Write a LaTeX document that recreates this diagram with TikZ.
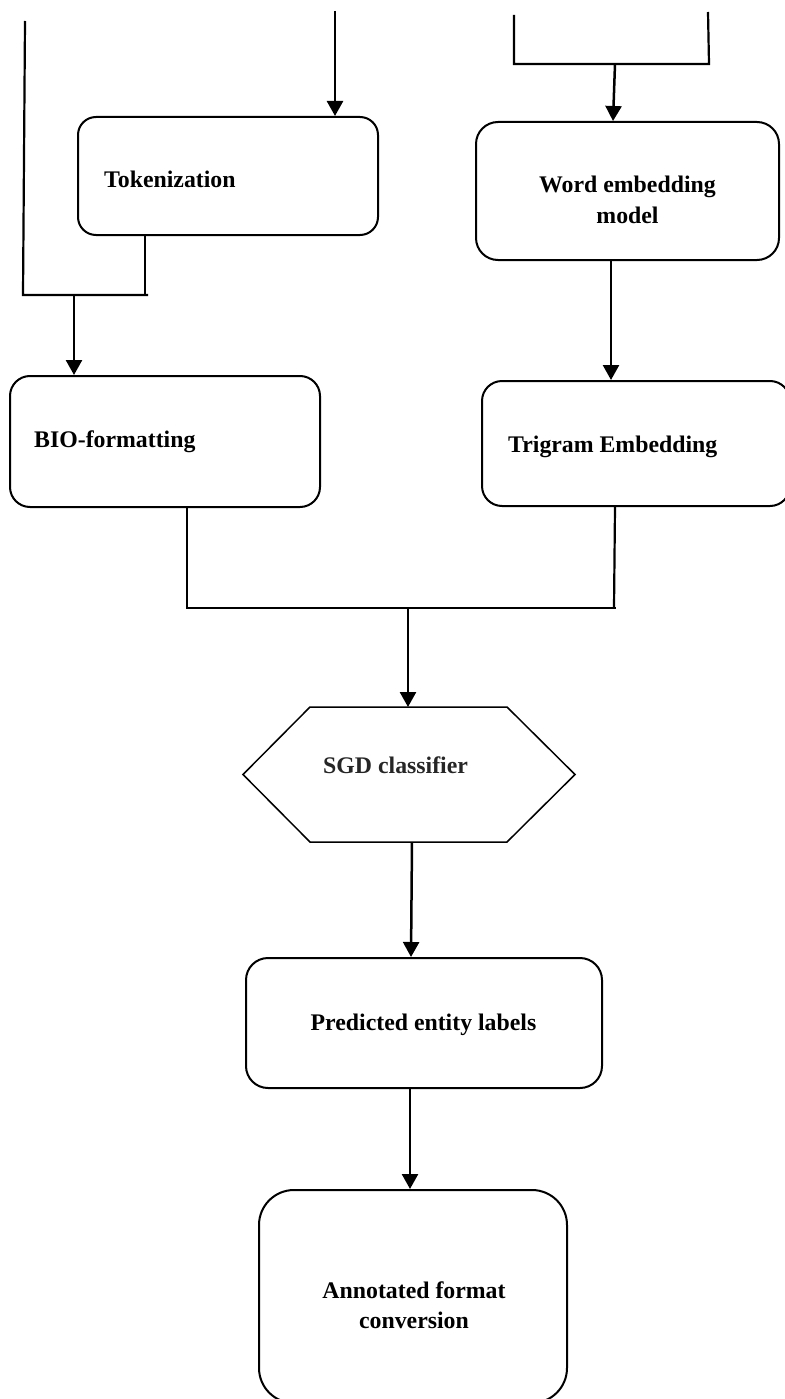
\documentclass[tikz,border=0pt]{standalone}
\usepackage{fontspec}
\setmainfont{Liberation Serif}
\usetikzlibrary{arrows.meta}
\begin{document}
\begin{tikzpicture}[x=1pt,y=-1pt,
  box/.style={draw, line width=2pt, rounded corners=#1, inner sep=0pt},
  box/.default=20pt,
  lbl/.style={font=\fontsize{23.8}{31}\selectfont\bfseries, inner sep=0pt, align=center},
  ln/.style={line width=2.2pt},
  arr/.style={line width=2.5pt, -{Triangle[width=16pt,length=15pt]}}]
\useasboundingbox (0,0) rectangle (784,1399);

% boxes
\node[box=18pt, minimum width=300pt, minimum height=118pt] (tok) at (228,176) {};
\node[box=20pt, minimum width=310pt, minimum height=131pt] (bio) at (165,441.5) {};
\node[box=22pt, minimum width=303pt, minimum height=138pt] (word) at (627.5,191) {};
\node[box=20pt, minimum width=308pt, minimum height=125pt] (tri) at (636,443.5) {};
\node[inner sep=0pt, outer sep=0pt, minimum width=332pt, minimum height=135pt] (sgd) at (409,774.5) {};
\draw[line width=1.5pt] (sgd.west) -- ([xshift=67pt]sgd.north west) -- ([xshift=-68pt]sgd.north east)
  -- (sgd.east) -- ([xshift=-68pt]sgd.south east) -- ([xshift=67pt]sgd.south west) -- cycle;
\node[box=22pt, minimum width=356pt, minimum height=130pt] (pred) at (424,1023) {};
\node[box=35pt, minimum width=308pt, minimum height=213pt] (ann) at (413,1296.5) {};

% labels
\node[lbl, anchor=west] (tokt) at ([xshift=27pt,yshift=-3pt]tok.west) {Tokenization};
\node[lbl, anchor=west] (biot) at ([xshift=25pt]bio.west) {BIO-formatting};
\node[lbl] (wordt) at ([yshift=-9pt]word.center) {Word embedding\\model};
\node[lbl, anchor=west] (trit) at ([xshift=27pt,yshift=-3pt]tri.west) {Trigram Embedding};
\node[lbl, anchor=west, text=black!85] (sgdt) at ([xshift=80pt,yshift=9.5pt]sgd.west) {SGD classifier};
\node[lbl] (predt) at ([xshift=-0.5pt,yshift=-1.5pt]pred.center) {Predicted entity labels};
\node[lbl, font=\fontsize{23.8}{30}\selectfont\bfseries] (annt) at ([xshift=1pt,yshift=-9pt]ann.center) {Annotated format\\conversion};

% free ends and junctions
\coordinate (srcT) at (335,11);
\coordinate (inL) at (25,21);
\coordinate (jL) at (23,295);
\coordinate (jLr) at (148,295);
\coordinate (mL) at (74,295);
\coordinate (inA) at (514,15);
\coordinate (inB) at (708,12);
\coordinate (jR1) at (514,64);
\coordinate (jR2) at (709,64);
\coordinate (mR) at (615,64);
\coordinate (jB1) at (187,608);
\coordinate (jB2) at (616,608);
\coordinate (jB3) at (614,608);
\coordinate (mB) at (408,608);

% connectors
\draw[arr] (srcT) -- (tok.north -| srcT);
\draw[ln] (inL) -- (jL) -- (jLr);
\draw[ln] ([xshift=-83pt]tok.south) -- ([xshift=-83pt]tok.south |- jL);
\draw[arr] (mL) -- (bio.north -| mL);

\draw[ln] (inA) -- (jR1) -- (jR2) -- (inB);
\draw[arr] (mR) -- ([xshift=-14.5pt]word.north);
\draw[arr] ([xshift=-16.5pt]word.south) -- ([xshift=-25pt]tri.north);

\draw[ln] ([xshift=22pt]bio.south) -- (jB1) -- (jB2);
\draw[ln] ([xshift=-21pt]tri.south) -- (jB3);
\draw[arr] (mB) -- (sgd.north -| mB);

\draw[arr] ([xshift=3pt]sgd.south) -- ([xshift=-13pt]pred.north);
\draw[arr] ([xshift=-14pt]pred.south) -- ([xshift=-3pt]ann.north);
\end{tikzpicture}
\end{document}
